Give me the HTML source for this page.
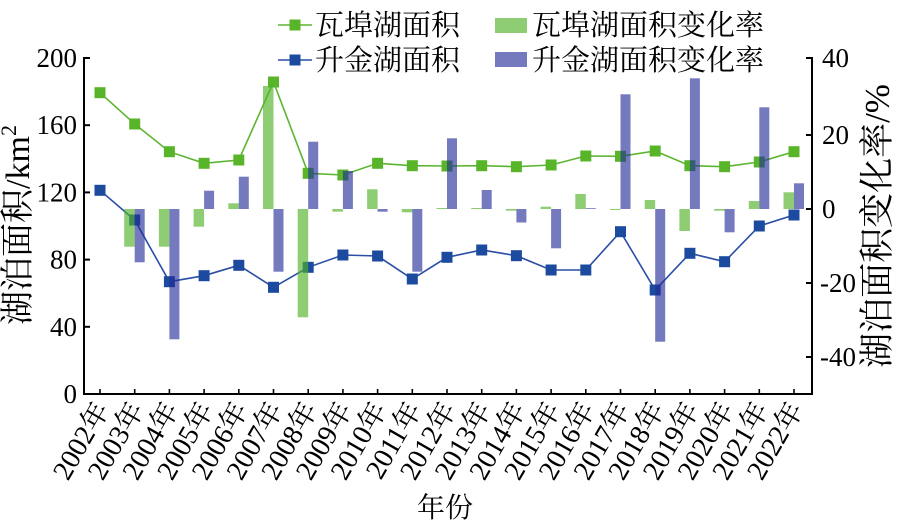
<!DOCTYPE html>
<html>
<head>
<meta charset="utf-8">
<style>
  html, body { margin: 0; padding: 0; background: #fff; }
  svg { display: block; }
  .num { font-family: "Liberation Serif", "Noto Serif CJK SC", serif; fill: #000; }
  .cjk { font-family: "Liberation Serif", "Noto Serif CJK SC", serif; fill: #000; }
</style>
</head>
<body>
<svg width="898" height="531" viewBox="0 0 898 531" xmlns="http://www.w3.org/2000/svg">
  <rect width="898" height="531" fill="#fff"/>

  <!-- Lines -->
  <polyline fill="none" stroke="#5cb531" stroke-width="1.6"
    points="100,92.7 134.7,124 169.4,151.7 204.1,163.3 238.8,160 273.5,82 308.2,173.3 342.9,175 377.6,163.3 412.3,165.7 447,166 481.7,165.7 516.4,166.7 551.1,165 585.8,156 620.5,156.3 655.2,151 689.9,165.7 724.6,166.7 759.3,162 794,151.7"/>
  <polyline fill="none" stroke="#2a4ea6" stroke-width="1.6"
    points="100,190.3 134.7,220 169.4,281.7 204.1,275.7 238.8,265.3 273.5,287.3 308.2,267.3 342.9,255 377.6,256 412.3,279 447,257.3 481.7,250 516.4,255.7 551.1,270 585.8,270 620.5,231.7 655.2,290 689.9,253.3 724.6,261.7 759.3,226 794,215"/>

  <!-- Green markers -->
  <g fill="#58b52a">
    <rect x="94.5" y="87.2" width="11" height="11"/>
    <rect x="129.2" y="118.5" width="11" height="11"/>
    <rect x="163.9" y="146.2" width="11" height="11"/>
    <rect x="198.6" y="157.8" width="11" height="11"/>
    <rect x="233.3" y="154.5" width="11" height="11"/>
    <rect x="268" y="76.5" width="11" height="11"/>
    <rect x="302.7" y="167.8" width="11" height="11"/>
    <rect x="337.4" y="169.5" width="11" height="11"/>
    <rect x="372.1" y="157.8" width="11" height="11"/>
    <rect x="406.8" y="160.2" width="11" height="11"/>
    <rect x="441.5" y="160.5" width="11" height="11"/>
    <rect x="476.2" y="160.2" width="11" height="11"/>
    <rect x="510.9" y="161.2" width="11" height="11"/>
    <rect x="545.6" y="159.5" width="11" height="11"/>
    <rect x="580.3" y="150.5" width="11" height="11"/>
    <rect x="615" y="150.8" width="11" height="11"/>
    <rect x="649.7" y="145.5" width="11" height="11"/>
    <rect x="684.4" y="160.2" width="11" height="11"/>
    <rect x="719.1" y="161.2" width="11" height="11"/>
    <rect x="753.8" y="156.5" width="11" height="11"/>
    <rect x="788.5" y="146.2" width="11" height="11"/>
  </g>
  <!-- Blue markers -->
  <g fill="#1b4a9e">
    <rect x="94.5" y="184.8" width="11" height="11"/>
    <rect x="129.2" y="214.5" width="11" height="11"/>
    <rect x="163.9" y="276.2" width="11" height="11"/>
    <rect x="198.6" y="270.2" width="11" height="11"/>
    <rect x="233.3" y="259.8" width="11" height="11"/>
    <rect x="268" y="281.8" width="11" height="11"/>
    <rect x="302.7" y="261.8" width="11" height="11"/>
    <rect x="337.4" y="249.5" width="11" height="11"/>
    <rect x="372.1" y="250.5" width="11" height="11"/>
    <rect x="406.8" y="273.5" width="11" height="11"/>
    <rect x="441.5" y="251.8" width="11" height="11"/>
    <rect x="476.2" y="244.5" width="11" height="11"/>
    <rect x="510.9" y="250.2" width="11" height="11"/>
    <rect x="545.6" y="264.5" width="11" height="11"/>
    <rect x="580.3" y="264.5" width="11" height="11"/>
    <rect x="615" y="226.2" width="11" height="11"/>
    <rect x="649.7" y="284.5" width="11" height="11"/>
    <rect x="684.4" y="247.8" width="11" height="11"/>
    <rect x="719.1" y="256.2" width="11" height="11"/>
    <rect x="753.8" y="220.5" width="11" height="11"/>
    <rect x="788.5" y="209.5" width="11" height="11"/>
  </g>

  <!-- Green bars -->
  <g fill="rgb(82,178,40)" fill-opacity="0.65">
    <rect x="124.2" y="209" width="10.5" height="37.7"/>
    <rect x="158.9" y="209" width="10.5" height="37.7"/>
    <rect x="193.6" y="209" width="10.5" height="17.7"/>
    <rect x="228.3" y="203.3" width="10.5" height="5.7"/>
    <rect x="263" y="86" width="10.5" height="123"/>
    <rect x="297.7" y="209" width="10.5" height="108.3"/>
    <rect x="332.4" y="209" width="10.5" height="2.7"/>
    <rect x="367.1" y="189.3" width="10.5" height="19.7"/>
    <rect x="401.8" y="209" width="10.5" height="3.3"/>
    <rect x="436.5" y="208" width="10.5" height="1"/>
    <rect x="471.2" y="208" width="10.5" height="1"/>
    <rect x="505.9" y="209" width="10.5" height="1.7"/>
    <rect x="540.6" y="206.7" width="10.5" height="2.3"/>
    <rect x="575.3" y="194" width="10.5" height="15"/>
    <rect x="610" y="209" width="10.5" height="1"/>
    <rect x="644.7" y="200" width="10.5" height="9"/>
    <rect x="679.4" y="209" width="10.5" height="22"/>
    <rect x="714.1" y="209" width="10.5" height="1.7"/>
    <rect x="748.8" y="201" width="10.5" height="8"/>
    <rect x="783.5" y="192.3" width="10.5" height="16.7"/>
  </g>
  <!-- Blue bars -->
  <g fill="rgb(35,45,150)" fill-opacity="0.63">
    <rect x="134.7" y="209" width="10" height="53.3"/>
    <rect x="169.4" y="209" width="10" height="130.3"/>
    <rect x="204.1" y="190.7" width="10" height="18.3"/>
    <rect x="238.8" y="176.7" width="10" height="32.3"/>
    <rect x="273.5" y="209" width="10" height="62.7"/>
    <rect x="308.2" y="141.7" width="10" height="67.3"/>
    <rect x="342.9" y="171" width="10" height="38"/>
    <rect x="377.6" y="209" width="10" height="2.7"/>
    <rect x="412.3" y="209" width="10" height="62.7"/>
    <rect x="447" y="138.3" width="10" height="70.7"/>
    <rect x="481.7" y="190" width="10" height="19"/>
    <rect x="516.4" y="209" width="10" height="13.5"/>
    <rect x="551.1" y="209" width="10" height="39.3"/>
    <rect x="585.8" y="208.2" width="10" height="0.8"/>
    <rect x="620.5" y="94.3" width="10" height="114.7"/>
    <rect x="655.2" y="209" width="10" height="132.7"/>
    <rect x="689.9" y="78.3" width="10" height="130.7"/>
    <rect x="724.6" y="209" width="10" height="23.3"/>
    <rect x="759.3" y="107.3" width="10" height="101.7"/>
    <rect x="794" y="183.3" width="10" height="25.7"/>
  </g>

  <!-- Axes -->
  <g stroke="#000" stroke-width="2" fill="none">
    <line x1="84" y1="57" x2="84" y2="395"/>
    <line x1="83" y1="394" x2="813" y2="394"/>
    <line x1="812" y1="57" x2="812" y2="395"/>
    <line x1="84" y1="58" x2="90" y2="58"/>
    <line x1="84" y1="125.2" x2="90" y2="125.2"/>
    <line x1="84" y1="192.4" x2="90" y2="192.4"/>
    <line x1="84" y1="259.6" x2="90" y2="259.6"/>
    <line x1="84" y1="326.8" x2="90" y2="326.8"/>
    <line x1="806" y1="58" x2="812" y2="58"/>
    <line x1="806" y1="135" x2="812" y2="135"/>
    <line x1="806" y1="209" x2="812" y2="209"/>
    <line x1="806" y1="283" x2="812" y2="283"/>
    <line x1="806" y1="357" x2="812" y2="357"/>
  </g>
  <g stroke="#000" stroke-width="1.6">
    <line x1="100" y1="389" x2="100" y2="394"/>
    <line x1="134.7" y1="389" x2="134.7" y2="394"/>
    <line x1="169.4" y1="389" x2="169.4" y2="394"/>
    <line x1="204.1" y1="389" x2="204.1" y2="394"/>
    <line x1="238.8" y1="389" x2="238.8" y2="394"/>
    <line x1="273.5" y1="389" x2="273.5" y2="394"/>
    <line x1="308.2" y1="389" x2="308.2" y2="394"/>
    <line x1="342.9" y1="389" x2="342.9" y2="394"/>
    <line x1="377.6" y1="389" x2="377.6" y2="394"/>
    <line x1="412.3" y1="389" x2="412.3" y2="394"/>
    <line x1="447" y1="389" x2="447" y2="394"/>
    <line x1="481.7" y1="389" x2="481.7" y2="394"/>
    <line x1="516.4" y1="389" x2="516.4" y2="394"/>
    <line x1="551.1" y1="389" x2="551.1" y2="394"/>
    <line x1="585.8" y1="389" x2="585.8" y2="394"/>
    <line x1="620.5" y1="389" x2="620.5" y2="394"/>
    <line x1="655.2" y1="389" x2="655.2" y2="394"/>
    <line x1="689.9" y1="389" x2="689.9" y2="394"/>
    <line x1="724.6" y1="389" x2="724.6" y2="394"/>
    <line x1="759.3" y1="389" x2="759.3" y2="394"/>
    <line x1="794" y1="389" x2="794" y2="394"/>
  </g>

  <!-- Left tick labels -->
  <g class="num" font-size="27" text-anchor="end">
    <text x="77" y="67">200</text>
    <text x="77" y="134.2">160</text>
    <text x="77" y="201.4">120</text>
    <text x="77" y="268.6">80</text>
    <text x="77" y="335.8">40</text>
    <text x="77" y="403">0</text>
  </g>
  <!-- Right tick labels -->
  <g class="num" font-size="27" text-anchor="start">
    <text x="822" y="67">40</text>
    <text x="822" y="144">20</text>
    <text x="822" y="218">0</text>
    <text x="820" y="292">-20</text>
    <text x="820" y="366">-40</text>
  </g>

  <!-- X tick labels -->
  <g class="cjk" font-size="28" text-anchor="end">
    <text transform="translate(110,409) rotate(-60)">2002年</text>
    <text transform="translate(144.7,409) rotate(-60)">2003年</text>
    <text transform="translate(179.4,409) rotate(-60)">2004年</text>
    <text transform="translate(214.1,409) rotate(-60)">2005年</text>
    <text transform="translate(248.8,409) rotate(-60)">2006年</text>
    <text transform="translate(283.5,409) rotate(-60)">2007年</text>
    <text transform="translate(318.2,409) rotate(-60)">2008年</text>
    <text transform="translate(352.9,409) rotate(-60)">2009年</text>
    <text transform="translate(387.6,409) rotate(-60)">2010年</text>
    <text transform="translate(422.3,409) rotate(-60)">2011年</text>
    <text transform="translate(457,409) rotate(-60)">2012年</text>
    <text transform="translate(491.7,409) rotate(-60)">2013年</text>
    <text transform="translate(526.4,409) rotate(-60)">2014年</text>
    <text transform="translate(561.1,409) rotate(-60)">2015年</text>
    <text transform="translate(595.8,409) rotate(-60)">2016年</text>
    <text transform="translate(630.5,409) rotate(-60)">2017年</text>
    <text transform="translate(665.2,409) rotate(-60)">2018年</text>
    <text transform="translate(699.9,409) rotate(-60)">2019年</text>
    <text transform="translate(734.6,409) rotate(-60)">2020年</text>
    <text transform="translate(769.3,409) rotate(-60)">2021年</text>
    <text transform="translate(804,409) rotate(-60)">2022年</text>
  </g>

  <!-- Axis titles -->
  <text class="cjk" font-size="28" text-anchor="middle" x="445" y="517">年份</text>
  <text class="cjk" font-size="34" text-anchor="middle" transform="translate(29,225) rotate(-90)">湖泊面积/km<tspan font-size="22" dy="-13">2</tspan></text>
  <text class="cjk" font-size="35" text-anchor="middle" transform="translate(889,226) rotate(-90)">湖泊面积变化率/%</text>

  <!-- Legend -->
  <line x1="278" y1="25" x2="312" y2="25" stroke="#5cb531" stroke-width="1.6"/>
  <rect x="289.5" y="19.5" width="11" height="11" fill="#58b52a"/>
  <text class="cjk" font-size="29" x="315" y="35">瓦埠湖面积</text>

  <line x1="278" y1="60" x2="312" y2="60" stroke="#2a4ea6" stroke-width="1.6"/>
  <rect x="289.5" y="54.5" width="11" height="11" fill="#1b4a9e"/>
  <text class="cjk" font-size="29" x="315" y="70">升金湖面积</text>

  <rect x="495" y="18" width="32" height="15" fill="rgb(82,178,40)" fill-opacity="0.65"/>
  <text class="cjk" font-size="29" x="532" y="35">瓦埠湖面积变化率</text>

  <rect x="495" y="52" width="32" height="15" fill="rgb(35,45,150)" fill-opacity="0.63"/>
  <text class="cjk" font-size="29" x="532" y="70">升金湖面积变化率</text>
</svg>
</body>
</html>
